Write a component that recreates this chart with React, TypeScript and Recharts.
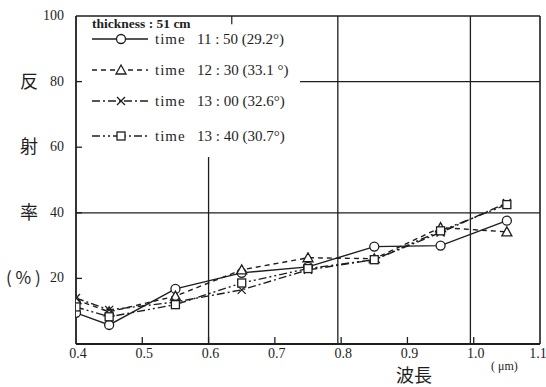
import { LineChart, Line, XAxis, YAxis, ReferenceLine } from "recharts";

const wavelengths = [0.4, 0.45, 0.55, 0.65, 0.75, 0.85, 0.95, 1.05];
const time1150 = [9.5, 5.8, 16.8, 21.7, 23.5, 29.7, 30, 37.6];
const time1230 = [13.5, 9.8, 14.6, 22.6, 26.3, 26, 35.5, 34.2];
const time1300 = [14, 10.4, 12.8, 16.5, 22.6, 25.7, 34, 43];
const time1340 = [11.3, 8.3, 12, 18.6, 23, 25.7, 34.5, 42.5];

const xTicks = [0.4, 0.5, 0.6, 0.7, 0.8, 0.9, 1.0, 1.1];
const yTicks = [20, 40, 60, 80, 100];

const legendRows = [
  { key: "t1150", label: "11 : 50 (29.2°)", dash: undefined, shape: "circle" },
  { key: "t1230", label: "12 : 30 (33.1 °)", dash: "5 4", shape: "triangle" },
  { key: "t1300", label: "13 : 00 (32.6°)", dash: "8 3 2 3", shape: "cross" },
  { key: "t1340", label: "13 : 40 (30.7°)", dash: "8 3 2 3 2 3", shape: "square" },
];

const data = wavelengths.map((w, i) => ({
  w,
  t1150: time1150[i],
  t1230: time1230[i],
  t1300: time1300[i],
  t1340: time1340[i],
}));

const INK = "#1e1e1e";
const serif = "'Liberation Serif', 'DejaVu Serif', serif";
const cjk = "'Noto Sans CJK JP', sans-serif";

function marker(shape: string, cx: number, cy: number, k?: string) {
  const common = { stroke: INK, strokeWidth: 1.3, fill: "#fff" };
  if (shape === "circle") return <circle key={k} cx={cx} cy={cy} r={4.5} {...common} />;
  if (shape === "triangle")
    return (
      <polygon
        key={k}
        points={`${cx},${cy - 5} ${cx - 5},${cy + 4} ${cx + 5},${cy + 4}`}
        {...common}
      />
    );
  if (shape === "square")
    return <rect key={k} x={cx - 4} y={cy - 4} width={8} height={8} {...common} />;
  return (
    <path
      key={k}
      d={`M${cx - 4},${cy - 4}L${cx + 4},${cy + 4}M${cx - 4},${cy + 4}L${cx + 4},${cy - 4}`}
      stroke={INK}
      strokeWidth={1.3}
    />
  );
}

const dotFor = (shape: string) => (props: any) =>
  marker(shape, props.cx, props.cy, `${shape}-${props.index}`);

const YTick = (props: any) => {
  const { x, y, payload } = props;
  return (
    <g>
      <text x={x} y={y} dy={4} textAnchor="end" fontSize={14} fontFamily={serif} fill={INK}>
        {payload.value}
      </text>
      {payload.value !== 100 && (
        <line x1={x + 12} x2={x + 18} y1={y} y2={y} stroke={INK} strokeWidth={1.3} />
      )}
    </g>
  );
};

const XTick = (props: any) => {
  const { x, y, payload } = props;
  return (
    <g>
      <text x={x + 2} y={y} dy={8.5} textAnchor="middle" fontSize={14} fontFamily={serif} fill={INK}>
        {payload.value.toFixed(1)}
      </text>
      {payload.value > 0.4 && payload.value < 1.1 && (
        <line x1={x} x2={x} y1={y - 6} y2={y - 12} stroke={INK} strokeWidth={1.3} />
      )}
    </g>
  );
};

export default function App() {
  return (
    <div style={{ position: "absolute", left: 0, top: 0, width: 546, height: 387, background: "#fff" }}>
      <LineChart
        width={546}
        height={387}
        data={data}
        margin={{ top: 16, right: 6, bottom: 0, left: 0 }}
      >
        <XAxis
          dataKey="w"
          type="number"
          domain={[0.4, 1.1]}
          ticks={xTicks}
          tick={<XTick />}
          tickLine={false}
          tickSize={0}
          tickMargin={5}
          height={43}
          stroke={INK}
          strokeWidth={1.8}
          allowDataOverflow
        />
        <YAxis
          type="number"
          domain={[0, 100]}
          ticks={yTicks}
          tick={<YTick />}
          tickLine={false}
          tickSize={0}
          tickMargin={12}
          width={76}
          stroke={INK}
          strokeWidth={1.8}
        />
        <ReferenceLine y={100} stroke={INK} strokeWidth={1.6} />
        <ReferenceLine x={1.1} stroke={INK} strokeWidth={1.6} />
        <ReferenceLine y={40} stroke={INK} strokeWidth={1.3} />
        <ReferenceLine segment={[{ x: 0.738, y: 80 }, { x: 1.1, y: 80 }]} stroke={INK} strokeWidth={1.3} />
        <ReferenceLine segment={[{ x: 0.6, y: 0 }, { x: 0.6, y: 57 }]} stroke={INK} strokeWidth={1.3} />
        <ReferenceLine x={0.795} stroke={INK} strokeWidth={1.3} />
        <ReferenceLine x={0.995} stroke={INK} strokeWidth={1.3} />
        <ReferenceLine segment={[{ x: 0.635, y: 97.5 }, { x: 0.635, y: 100 }]} stroke={INK} strokeWidth={1.2} />
        {legendRows.map((r) => (
          <Line
            key={r.key}
            type="linear"
            dataKey={r.key}
            stroke={INK}
            strokeWidth={1.4}
            strokeDasharray={r.dash}
            dot={dotFor(r.shape)}
            activeDot={false}
            isAnimationActive={false}
          />
        ))}
      </LineChart>
      <svg
        width={546}
        height={387}
        style={{ position: "absolute", left: 0, top: 0, pointerEvents: "none" }}
      >
        <text x={92} y={28} fontSize={13.5} fontWeight="bold" fontFamily={serif} fill={INK}>
          thickness : 51 cm
        </text>
        {legendRows.map((r, i) => {
          const y = [39, 70, 101, 136][i];
          return (
            <g key={r.key}>
              <line x1={92} x2={148} y1={y} y2={y} stroke={INK} strokeWidth={1.4} strokeDasharray={r.dash} />
              {marker(r.shape, 121, y)}
              <text x={155} y={y + 5} fontSize={15} letterSpacing={1} fontFamily={serif} fill={INK}>time</text>
              <text x={197} y={y + 5} fontSize={15} fontFamily={serif} fill={INK}>{r.label}</text>
            </g>
          );
        })}
        <text x={20} y={88} fontSize={18} fontFamily={cjk} fill={INK}>反</text>
        <text x={20} y={153} fontSize={18} fontFamily={cjk} fill={INK}>射</text>
        <text x={20} y={219} fontSize={18} fontFamily={cjk} fill={INK}>率</text>
        <text x={6} y={284} fontSize={17} fontFamily={cjk} fill={INK}>( % )</text>
        <text x={396} y={382} fontSize={18} fontFamily={cjk} fill={INK}>波長</text>
        <text x={491} y={370} fontSize={12} fontFamily={serif} fill={INK}>( μm)</text>
      </svg>
    </div>
  );
}
